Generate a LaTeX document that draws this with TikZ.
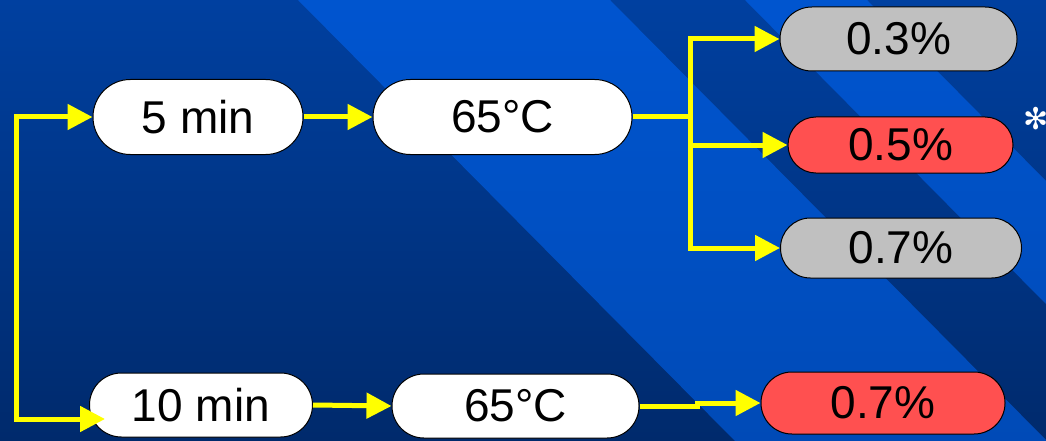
\documentclass[tikz,border=0pt]{standalone}
\usepackage{fontspec}
\setmainfont{Liberation Sans}
\newfontfamily\symfont{DejaVu Sans}
\usetikzlibrary{arrows.meta}
\definecolor{bgtop}{RGB}{0,64,160}
\definecolor{bgbot}{RGB}{0,42,108}
\definecolor{stripe}{RGB}{0,105,252}
\definecolor{pillgray}{RGB}{192,192,192}
\definecolor{pillred}{RGB}{255,80,80}
\definecolor{arrowyellow}{RGB}{255,255,0}
\newcommand\pillfont{\fontsize{46}{50}\selectfont}
\tikzset{
  pill/.style={draw=black, line width=1pt, inner sep=0pt, font=\pillfont, text=black},
  conn/.style={draw=arrowyellow, line width=5pt, line join=miter},
  arr/.style={conn, -{Triangle[length=25pt,width=25pt]}},
  stripeband/.style={fill=stripe, fill opacity=0.52},
}
\begin{document}
\begin{tikzpicture}[x=1pt,y=-1pt]
\useasboundingbox (0,0) rectangle (1046,441);
\shade[top color=bgtop, bottom color=bgbot] (0,0) rectangle (1046,441);
\fill[stripeband] (298,0) -- (610,0) -- (1047,441) -- (735,441) -- cycle;
\fill[stripeband] (745,0) -- (867,0) -- (1046,181) -- (1046,304) -- cycle;

\node[pill, fill=white, minimum width=210pt, minimum height=75pt, rounded corners=37.4pt] (fivemin) at (198,117) {5 min};
\node[pill, fill=white, minimum width=259pt, minimum height=75pt, rounded corners=37.4pt] (toptemp) at (502.5,117) {65°C};
\node[pill, fill=pillgray, minimum width=237pt, minimum height=64pt, rounded corners=31.9pt] (pthree) at (898.5,39) {0.3\%};
\node[pill, fill=pillred, minimum width=225pt, minimum height=56pt, rounded corners=27.9pt] (pfive) at (900.5,145) {0.5\%};
\node[pill, fill=pillgray, minimum width=241pt, minimum height=60pt, rounded corners=29.9pt] (psevengray) at (901,248) {0.7\%};
\node[pill, fill=white, minimum width=223pt, minimum height=64pt, rounded corners=31.9pt] (tenmin) at (201,405) {10 min};
\node[pill, fill=white, minimum width=247pt, minimum height=64pt, rounded corners=31.9pt] (bottemp) at (515.5,406) {65°C};
\node[pill, fill=pillred, minimum width=244pt, minimum height=62pt, rounded corners=30.9pt] (psevenred) at (883,403) {0.7\%};
\node[text=white, font=\symfont\fontsize{30}{32}\selectfont, inner sep=0pt] (star) at (1036,119) {✻};

\coordinate (start) at (16,117);
\coordinate (bend) at (16,419);
\coordinate (tentip) at (105,419);
\coordinate (branch) at (690,117);
\coordinate (jog) at (697,406);

\draw[conn, {Triangle[length=25pt,width=25pt]}-{Triangle[length=25pt,width=25pt]}] (fivemin.west) -- (start) -- (bend) -- (tentip);
\draw[arr] (fivemin.east) -- (toptemp.west);
\draw[conn] (toptemp.east) -- (branch);
\draw[arr] (branch) |- (pthree.west);
\draw[arr] (branch) |- (pfive.west);
\draw[arr] (branch) |- (psevengray.west);
\draw[arr] (tenmin.east) -- (bottemp.west);
\draw[arr] (bottemp.east) -- (jog) |- (psevenred.west);
\end{tikzpicture}
\end{document}
